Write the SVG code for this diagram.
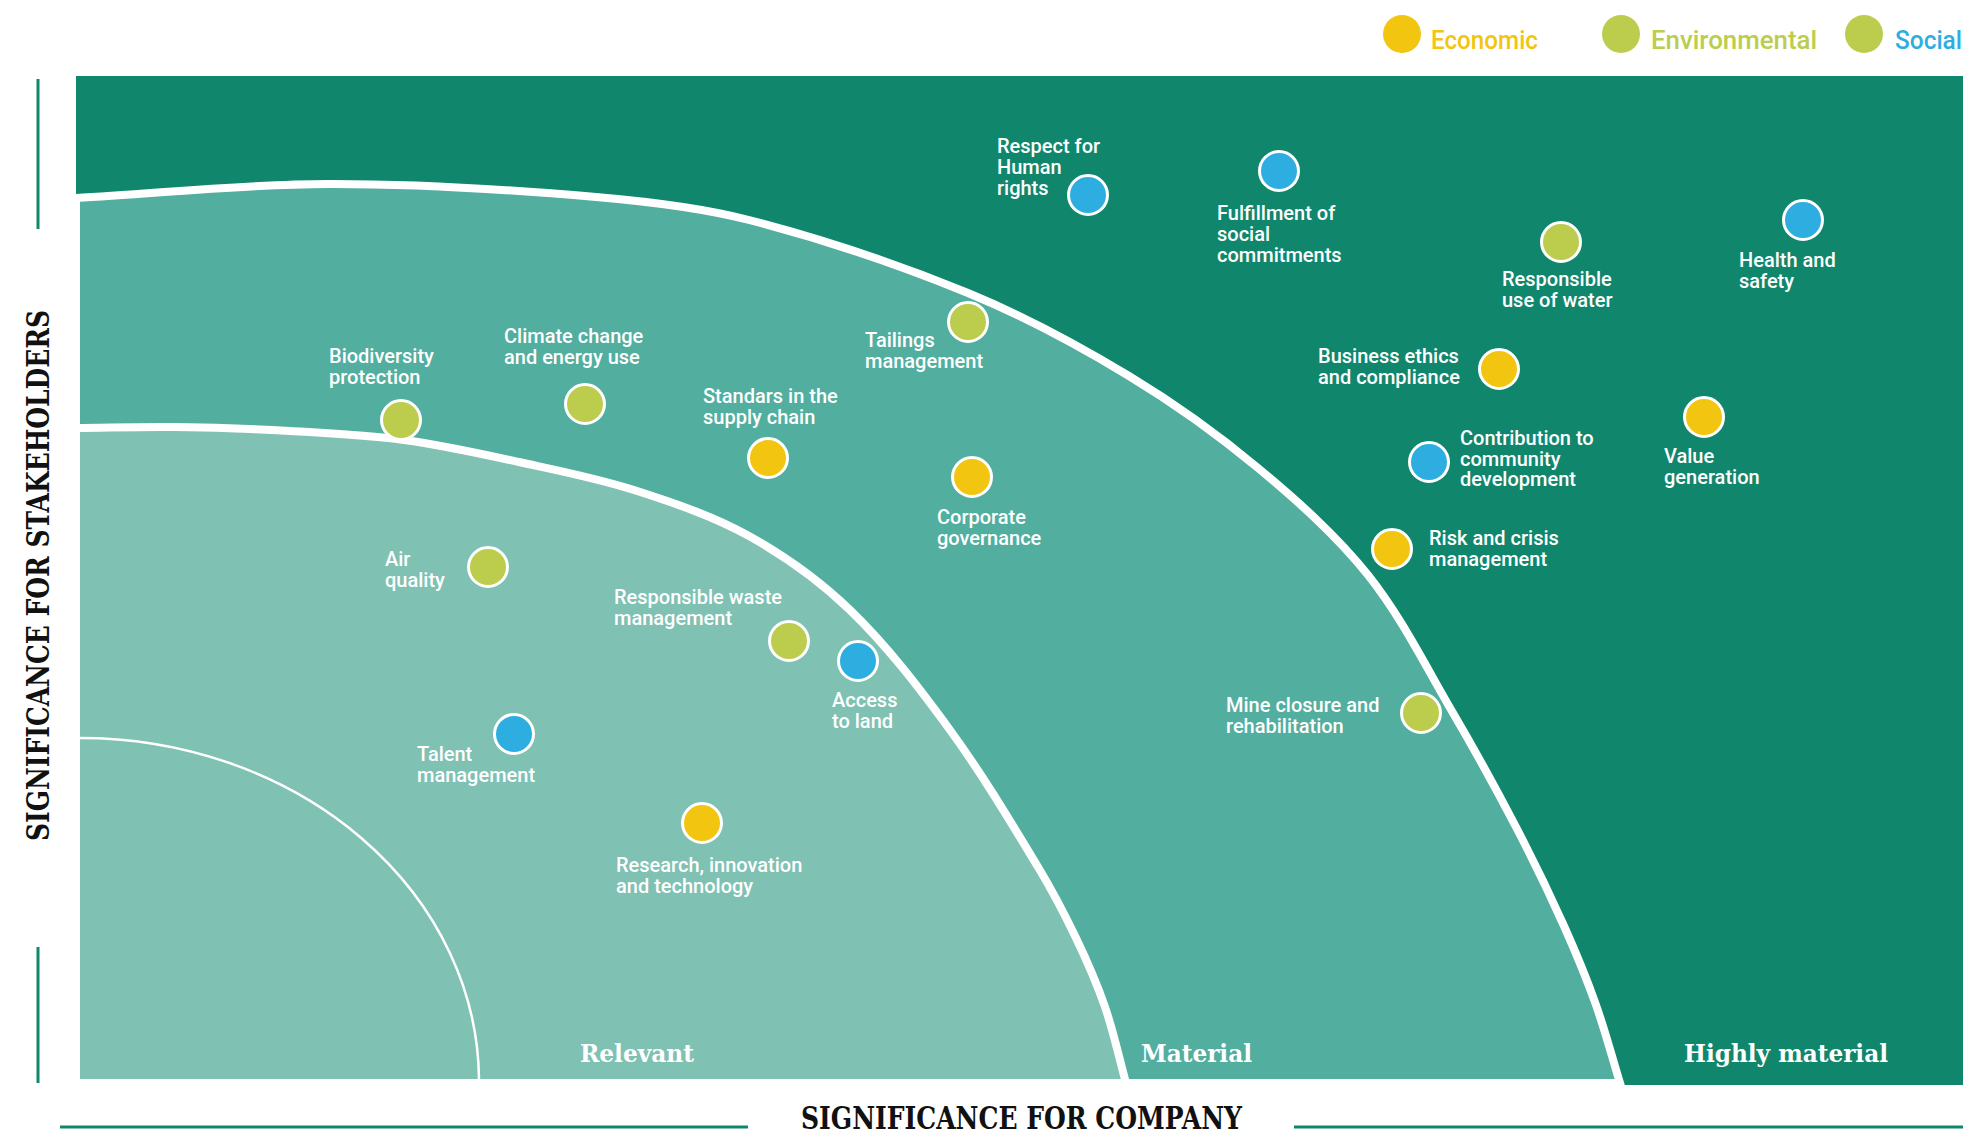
<svg xmlns="http://www.w3.org/2000/svg" width="1963" height="1133" viewBox="0 0 1963 1133">
<style>
.lbl{font-family:Roboto,"Liberation Sans",sans-serif;font-weight:500;font-size:20px;fill:#fff}
.zone{font-family:"DejaVu Serif","Liberation Serif",serif;font-weight:bold;font-size:25px;fill:#fff}
.axis{font-family:"DejaVu Serif","Liberation Serif",serif;font-weight:bold;font-size:31px;fill:#111}
.leg{font-family:Roboto,"Liberation Sans",sans-serif;font-weight:500;font-size:25px}
.eco{fill:#f2c511}.env{fill:#bccd4e}.soc{fill:#2eaee0}
.dot{stroke:#fff;stroke-width:3}
.axl{stroke:#10876d;stroke-width:3;fill:none}
</style>
<rect width="1963" height="1133" fill="#fff"/>
<g id="zones">
<rect x="76" y="76" width="1887" height="1009" fill="#10876d"/>
<path d="M76 198 C159.9 193.4 243.9 184.2 328 184 C417.4 183.8 507 189.4 596 197 C647.4 201.4 699.1 207.1 749 220 C823.4 239.2 896.9 263.8 968 293 C1023.9 316 1077.3 344.8 1129 376 C1174.2 403.3 1217.4 434.2 1258 468 C1297.3 500.8 1336.1 535 1368 575 C1401.6 617.2 1425.7 666.5 1453 713 C1475 750.4 1495.9 788.5 1516 827 C1533 859.6 1549 892.5 1564 926 C1575.6 951.9 1586.5 978.2 1596 1005 C1605.1 1030.6 1612 1057 1620 1083 L76 1083 Z" fill="#52ae9f" stroke="#fff" stroke-width="8"/>
<path d="M76 428 C109 427.7 142 426.5 175 427 C213.4 427.5 251.7 428.8 290 431 C328 433.2 366.2 434.9 404 440 C442.6 445.2 480.9 453.7 519 462 C557.6 470.4 596.4 477.9 634 490 C673.3 502.6 712.9 515.9 749 536 C785.4 556.3 820 581 850 610 C887.5 646.2 919.3 688 950 730 C982 773.8 1009.9 820.6 1038 867 C1051.9 889.9 1064.4 913.8 1076 938 C1086.8 960.5 1096.9 983.5 1105 1007 C1113.6 1031.9 1119 1057.6 1126 1083 L76 1083 Z" fill="#7fc1b3" stroke="#fff" stroke-width="8"/>
<path d="M80 738 A399 344 0 0 1 479 1079" fill="none" stroke="#fff" stroke-width="2.5"/>
<text class="zone" x="580" y="1062" textLength="114" lengthAdjust="spacingAndGlyphs">Relevant</text>
<text class="zone" x="1141" y="1062" textLength="111" lengthAdjust="spacingAndGlyphs">Material</text>
<text class="zone" x="1684" y="1062" textLength="204" lengthAdjust="spacingAndGlyphs">Highly material</text>
</g>
<g id="axes">
<line class="axl" x1="38" y1="79" x2="38" y2="229"/>
<line class="axl" x1="38" y1="947" x2="38" y2="1083"/>
<line class="axl" x1="60" y1="1127" x2="748" y2="1127"/>
<line class="axl" x1="1294" y1="1127" x2="1963" y2="1127"/>
<text class="axis" x="801" y="1129" textLength="441" lengthAdjust="spacingAndGlyphs">SIGNIFICANCE FOR COMPANY</text>
<text class="axis" transform="translate(49 841) rotate(-90)" x="0" y="0" textLength="531" lengthAdjust="spacingAndGlyphs">SIGNIFICANCE FOR STAKEHOLDERS</text>
</g>
<g id="legend">
<circle class="eco" cx="1402" cy="34" r="19"/>
<text class="leg eco" x="1431" y="49" textLength="107" lengthAdjust="spacingAndGlyphs">Economic</text>
<circle class="env" cx="1621" cy="34" r="19"/>
<text class="leg env" x="1651" y="49" textLength="166" lengthAdjust="spacingAndGlyphs">Environmental</text>
<circle class="env" cx="1864" cy="34" r="19"/>
<text class="leg soc" x="1895" y="49" textLength="67" lengthAdjust="spacingAndGlyphs">Social</text>
</g>
<g id="connectors"></g>
<g id="n-human-rights"><circle class="dot soc" cx="1088" cy="195" r="19.5"/><text class="lbl" x="997" y="153">Respect for<tspan x="997" dy="21">Human</tspan><tspan x="997" dy="21">rights</tspan></text></g>
<g id="n-social-commitments"><circle class="dot soc" cx="1279" cy="171" r="19.5"/><text class="lbl" x="1217" y="220">Fulfillment of<tspan x="1217" dy="21">social</tspan><tspan x="1217" dy="21">commitments</tspan></text></g>
<g id="n-tailings"><circle class="dot env" cx="968" cy="322" r="19.5"/><text class="lbl" x="865" y="347">Tailings<tspan x="865" dy="20.5">management</tspan></text></g>
<g id="n-supply-chain"><circle class="dot eco" cx="768" cy="458" r="19.5"/><text class="lbl" x="703" y="403">Standars in the<tspan x="703" dy="20.5">supply chain</tspan></text></g>
<g id="n-corporate-governance"><circle class="dot eco" cx="972" cy="477" r="19.5"/><text class="lbl" x="937" y="524">Corporate<tspan x="937" dy="20.5">governance</tspan></text></g>
<g id="n-biodiversity"><circle class="dot env" cx="401" cy="420" r="19.5"/><text class="lbl" x="329" y="363">Biodiversity<tspan x="329" dy="20.5">protection</tspan></text></g>
<g id="n-climate"><circle class="dot env" cx="585" cy="404" r="19.5"/><text class="lbl" x="504" y="343">Climate change<tspan x="504" dy="20.5">and energy use</tspan></text></g>
<g id="n-air"><circle class="dot env" cx="488" cy="567" r="19.5"/><text class="lbl" x="385" y="566">Air<tspan x="385" dy="20.5">quality</tspan></text></g>
<g id="n-waste"><circle class="dot env" cx="789" cy="641" r="19.5"/><text class="lbl" x="614" y="604">Responsible waste<tspan x="614" dy="20.5">management</tspan></text></g>
<g id="n-land"><circle class="dot soc" cx="858" cy="661" r="19.5"/><text class="lbl" x="832" y="707">Access<tspan x="832" dy="20.5">to land</tspan></text></g>
<g id="n-talent"><circle class="dot soc" cx="514" cy="734" r="19.5"/><text class="lbl" x="417" y="761">Talent<tspan x="417" dy="20.5">management</tspan></text></g>
<g id="n-research"><circle class="dot eco" cx="702" cy="823" r="19.5"/><text class="lbl" x="616" y="872">Research, innovation<tspan x="616" dy="20.5">and technology</tspan></text></g>
<g id="n-water"><circle class="dot env" cx="1561" cy="242" r="19.5"/><text class="lbl" x="1502" y="286">Responsible<tspan x="1502" dy="21">use of water</tspan></text></g>
<g id="n-health"><circle class="dot soc" cx="1803" cy="220" r="19.5"/><text class="lbl" x="1739" y="267">Health and<tspan x="1739" dy="21">safety</tspan></text></g>
<g id="n-ethics"><circle class="dot eco" cx="1499" cy="369" r="19.5"/><text class="lbl" x="1318" y="363">Business ethics<tspan x="1318" dy="20.5">and compliance</tspan></text></g>
<g id="n-community"><circle class="dot soc" cx="1429" cy="462" r="19.5"/><text class="lbl" x="1460" y="445">Contribution to<tspan x="1460" dy="20.5">community</tspan><tspan x="1460" dy="20.5">development</tspan></text></g>
<g id="n-value"><circle class="dot eco" cx="1704" cy="417" r="19.5"/><text class="lbl" x="1664" y="463">Value<tspan x="1664" dy="20.5">generation</tspan></text></g>
<g id="n-risk"><circle class="dot eco" cx="1392" cy="549" r="19.5"/><text class="lbl" x="1429" y="545">Risk and crisis<tspan x="1429" dy="20.5">management</tspan></text></g>
<g id="n-mine-closure"><circle class="dot env" cx="1421" cy="713" r="19.5"/><text class="lbl" x="1226" y="712">Mine closure and<tspan x="1226" dy="21">rehabilitation</tspan></text></g>
</svg>
